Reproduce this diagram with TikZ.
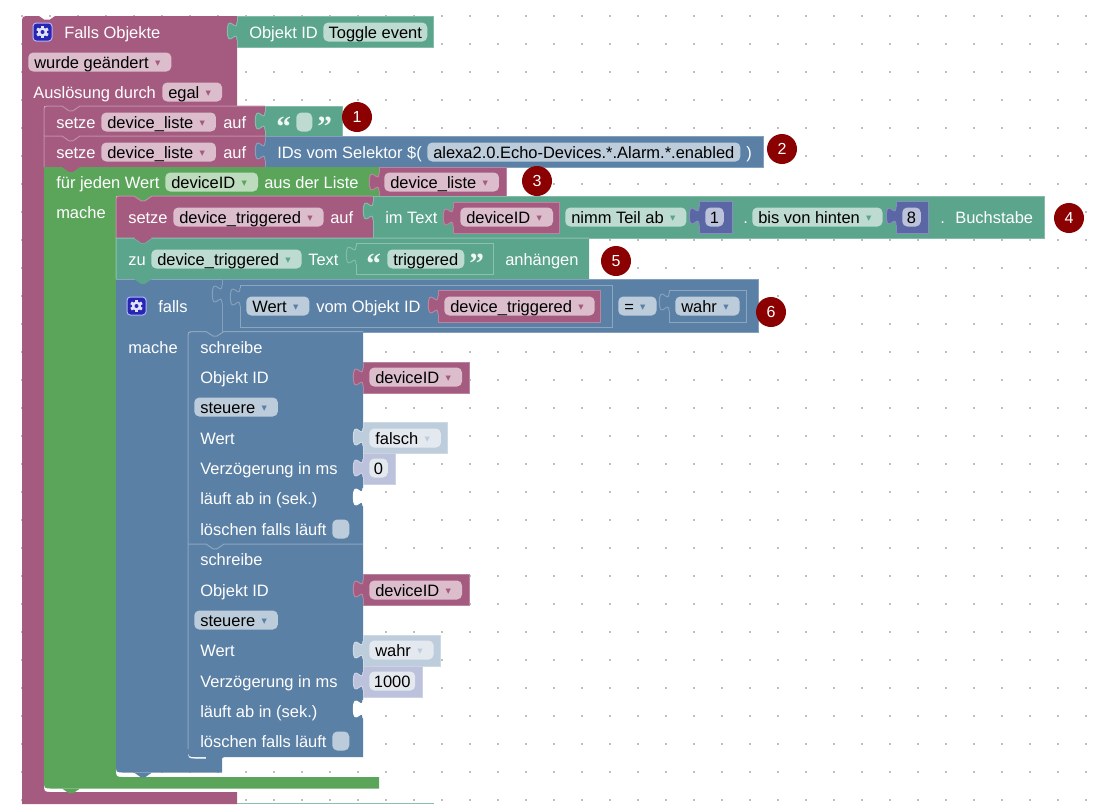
\documentclass[tikz,border=0pt]{standalone}
\usepackage{fontspec}
\setmainfont{Liberation Sans}
\newfontfamily\symfont{DejaVu Sans}
\newfontfamily\quotefont{Liberation Serif}
\definecolor{blockrose}{HTML}{A55B80}
\definecolor{blockteal}{HTML}{5BA58C}
\definecolor{blockgreen}{HTML}{5BA55B}
\definecolor{blockblue}{HTML}{5B80A5}
\definecolor{blockmath}{HTML}{5B67A5}
\definecolor{shadebool}{HTML}{BDCDDC}
\definecolor{shademath}{HTML}{BDC2DC}
\definecolor{rosefield}{HTML}{DBBDCC}
\definecolor{tealfield}{HTML}{BDDBD1}
\definecolor{greenfield}{HTML}{BDDBBD}
\definecolor{bluefield}{HTML}{BDCCDB}
\definecolor{mathfield}{HTML}{BDC2DB}
\definecolor{shadefield}{HTML}{E4E9F0}
\definecolor{badgered}{HTML}{8B0000}
\definecolor{griddot}{HTML}{BEBEBE}
\newcommand{\tabat}[3]{\begin{scope}[shift={(#1,#2)}]
		\fill[#3] (0,0) .. controls (0,12) and (-9.6,-9.6) .. (-9.6,9) .. controls (-9.6,27.6) and (0,6) .. (0,18) -- (1,18) -- (1,0) -- cycle;
		\draw[#3!75!white, line width=.75pt] (0,0) .. controls (0,12) and (-9.6,-9.6) .. (-9.6,9) .. controls (-9.6,27.6) and (0,6) .. (0,18);
	\end{scope}}
\newcommand{\valblock}[5]{\draw[fill=#5, draw=#5!75!white, line width=.75pt] (#1,#2) rectangle (#3,#4);
	\tabat{#1}{#2+6}{#5}}
\newcommand{\socket}[5]{\draw[draw=#5!70!white, line width=.75pt] (#1,#2) rectangle (#3,#4);
	\tabat{#1}{#2+3}{#5}}
\newcommand{\stmtpath}[4]{(#1,#3) -- (#1,{#2+#4}) .. controls (#1,#2) .. ({#1+#4},#2) -- ({#1+18},#2) -- ({#1+25},{#2+4.8}) -- ({#1+29},{#2+4.8}) -- ({#1+36},#2)}
\newcommand{\stmtblock}[6]{\fill[#6] \stmtpath{#1}{#2}{#4}{#5} -- (#3,#2) -- (#3,#4) -- cycle;
	\draw[#6!70!white, line width=.75pt] \stmtpath{#1}{#2}{#4}{#5} -- (#3,#2);}
\newcommand{\tailat}[3]{\fill[#3] (#1,#2) -- ({#1+2},#2) -- ({#1+18},#2) -- ({#1+11},{#2+4.8}) -- ({#1+7},{#2+4.8}) -- cycle;}
\newcommand{\gearicon}[2]{\begin{scope}[shift={(#1,#2)}]
		\draw[fill=blue!65!black!85!white, draw=blue!30!white, line width=.75pt, rounded corners=2.5pt] (-9.5,-9) rectangle (9.5,9);
		\foreach \a in {0,60,120}
			\fill[blue!12!white, rotate=\a] (-1.5,-6.3) rectangle (1.5,6.3);
		\fill[blue!12!white] (0,0) circle (4.6);
		\fill[blue!65!black!85!white] (0,0) circle (2);
	\end{scope}}
\newcommand{\caret}[1]{\hspace{1pt}\makebox[11.5pt][c]{\raisebox{.8pt}{\textcolor{#1}{\symfont\fontsize{8}{8}\selectfont ▾}}}}
\begin{document}
\begin{tikzpicture}[x=.75pt, y=-.75pt,
		lbl/.style={shape=rectangle, anchor=west, inner sep=0, text height=10.5pt, text depth=1.5pt, text=white, font=\fontsize{12.35}{14}\selectfont},
		fld/.style={lbl, text=black, inner xsep=4.5pt, inner ysep=1.125pt, rounded corners=3.75pt},
		fldrose/.style={fld, fill=rosefield},
		fldteal/.style={fld, fill=tealfield},
		fldblue/.style={fld, fill=bluefield},
		fldmath/.style={fld, fill=mathfield},
		fldshade/.style={fld, fill=shadefield},
		ddrose/.style={fldrose, execute at end node={\caret{blockrose}}},
		ddteal/.style={fldteal, execute at end node={\caret{blockteal}}},
		ddgreen/.style={fld, fill=greenfield, execute at end node={\caret{blockgreen}}},
		ddblue/.style={fldblue, execute at end node={\caret{blockblue}}},
		ddshade/.style={fldshade, execute at end node={\caret{shadebool}}},
		quotemark/.style={shape=rectangle, anchor=north west, inner sep=0, text=white!90!blockteal, font=\quotefont\bfseries\fontsize{22}{22}\selectfont},
		badge/.style={shape=circle, fill=badgered, minimum size=22.5pt, inner sep=0, text=white, font=\fontsize{12}{14}\selectfont}]
	\useasboundingbox (0,0) rectangle (1100,804);
	\clip (0,0) rectangle (1100,804);
	\foreach \i in {0,...,38}
		\foreach \j in {0,...,28}
			\fill[griddot] ({22+28*\i-.7},{16+28*\j-.7}) rectangle ({22+28*\i+.7},{16+28*\j+.7});

	% event block around everything
	\fill[blockrose] (22,804) -- (22,24) .. controls (22,16) .. (30,16) -- (39,16) -- (44,19.5) -- (50,19.5) -- (55,16) -- (237,16) -- (237,106) -- (44,106) -- (44,784) .. controls (44,792) .. (52,792) -- (237,792) -- (237,804) -- cycle;
	\draw[blockteal!70!white, line width=.75pt] (237,803.5) -- (434,803.5);
	\valblock{237}{16}{433}{47}{blockteal}
	\tailat{62}{106}{blockrose}
	\stmtblock{44}{106}{265}{136}{7}{blockrose}
	\valblock{265}{106}{342}{136}{blockteal}
	\tailat{62}{136}{blockrose}
	\stmtblock{44}{136}{265}{167}{0}{blockrose}
	\valblock{265}{136}{763}{167}{blockblue}

	% loop block
	\fill[blockgreen] (44,167) -- (379,167) -- (379,196) -- (116,196) -- (116,769) .. controls (116,777) .. (124,777) -- (379,777) -- (379,788.5) -- (52,788.5) .. controls (44,788.5) .. (44,780.5) -- cycle;
	\valblock{379}{167}{506}{196}{blockrose}
	\tailat{134}{196}{blockgreen}
	\stmtblock{116}{196}{373}{238}{7}{blockrose}
	\valblock{373}{196}{1044}{238}{blockteal}
	\valblock{453}{202}{559}{233}{blockrose}
	\valblock{699}{201}{732}{233}{blockmath}
	\valblock{896}{201}{928}{233}{blockmath}
	\stmtblock{116}{238}{589}{279}{0}{blockteal}
	\socket{356}{243}{493}{274}{blockteal}

	% if block
	\fill[blockblue] (116,279) -- (222,279) -- (222,332) -- (188,332) -- (188,750) .. controls (188,758.5) .. (196,758.5) -- (206,758.5) -- (206,757) -- (222,757) -- (222,772.5) -- (124,772.5) .. controls (116,772.5) .. (116,764.5) -- cycle;
	\draw[blockblue!70!white, line width=.75pt] (116,279) -- (222,279);
	\valblock{222}{279}{758}{332}{blockblue}
	\socket{240}{285}{612}{327}{blockblue}
	\valblock{438}{290}{600}{322}{blockrose}
	\socket{669}{290}{746}{322}{blockblue}

	% two write blocks
	\fill[blockblue] (188,749) -- (188,339) .. controls (188,332) .. (195,332) -- (363,332) -- (363,757) -- (196,757) .. controls (188,757) .. (188,749) -- cycle;
	\draw[blockblue!70!white, line width=.75pt] (188,749) -- (188,339) .. controls (188,331.5) .. (195,331.5) -- (206,331.5) -- (213,336) -- (217,336) -- (224,331.5) -- (363,331.5);
	\draw[blockblue!70!white, line width=.75pt] (188,544) -- (206,544) -- (213,548.8) -- (217,548.8) -- (224,544) -- (363,544);
	\valblock{363}{362}{469}{393}{blockrose}
	\valblock{363}{422}{447}{453}{shadebool}
	\valblock{363}{453}{395}{484}{shademath}
	\tabat{363}{488}{white}
	\valblock{363}{574}{469}{605}{blockrose}
	\valblock{363}{635}{440}{666}{shadebool}
	\valblock{363}{666}{422}{697}{shademath}
	\tabat{363}{700}{white}

	\tailat{62}{167}{blockrose}
	\tailat{62}{788.5}{blockgreen}
	\tailat{134}{238}{blockrose}
	\tailat{134}{279}{blockteal}
	\tailat{134}{772.5}{blockblue}
	\tailat{206}{757}{blockblue}

	\gearicon{42.5}{32}
	\gearicon{136.5}{306}

	\node (falls) at (64,32) [lbl] {Falls Objekte};
	\node (objid) at (249,32) [lbl] {Objekt ID};
	\node (toggle) at (323,32) [fldteal, inner xsep=4pt] {Toggle event};
	\node (changed) at (28,62) [ddrose] {wurde geändert};
	\node (trigger) at (33,92) [lbl] {Auslösung durch};
	\node (egal) at (162,92) [ddrose] {egal};

	\node (set1) at (56,122) [lbl] {setze};
	\node (var1) at (101,122) [ddrose] {device\_liste};
	\node (to1) at (223,122) [lbl] {auf};
	\node (open1) at (276,117) [quotemark] {“};
	\node (empty) at (296,122) [fldteal, minimum width=12pt, inner xsep=0] {};
	\node (close1) at (317,117) [quotemark] {”};

	\node (set2) at (56,152) [lbl] {setze};
	\node (var2) at (101,152) [ddrose] {device\_liste};
	\node (to2) at (223,152) [lbl] {auf};
	\node (selector) at (277,152) [lbl] {IDs vom Selektor \$(};
	\node (pattern) at (427,152) [fldblue] {alexa2.0.Echo-Devices.*.Alarm.*.enabled};
	\node (selend) at (746,152) [lbl] {)};

	\node (each) at (56,182) [lbl] {für jeden Wert};
	\node (loopvar) at (165,182) [ddgreen] {deviceID};
	\node (fromlist) at (264,182) [lbl] {aus der Liste};
	\node (listvar) at (384,182) [ddrose] {device\_liste};
	\node (do1) at (56,212) [lbl] {mache};

	\node (set3) at (128,217) [lbl] {setze};
	\node (var3) at (173,217) [ddrose] {device\_triggered};
	\node (to3) at (330,217) [lbl] {auf};
	\node (intext) at (385,217) [lbl] {im Text};
	\node (idvar1) at (460,217) [ddrose] {deviceID};
	\node (takepart) at (565,217) [ddteal] {nimm Teil ab};
	\node (numa) at (705,217) [fldmath, inner xsep=3.5pt] {1};
	\node (dota) at (743,217) [lbl] {.};
	\node (fromend) at (752,217) [ddteal] {bis von hinten};
	\node (numb) at (902,217) [fldmath, inner xsep=3.5pt] {8};
	\node (dotb) at (940,217) [lbl] {.};
	\node (letter) at (955,217) [lbl] {Buchstabe};

	\node (zu) at (128,259) [lbl] {zu};
	\node (var4) at (151,259) [ddteal] {device\_triggered};
	\node (textlbl) at (308,259) [lbl] {Text};
	\node (open2) at (366,254) [quotemark] {“};
	\node (suffix) at (387,259) [fldteal] {triggered};
	\node (close2) at (469,254) [quotemark] {”};
	\node (append) at (505,259) [lbl] {anhängen};

	\node (iflbl) at (158,306) [lbl] {falls};
	\node (valueof) at (246,306) [ddblue] {Wert};
	\node (fromobj) at (316,306) [lbl] {vom Objekt ID};
	\node (var5) at (444,306) [ddrose] {device\_triggered};
	\node (equals) at (618,306) [ddblue] {=};
	\node (truecmp) at (675,306) [ddblue] {wahr};
	\node (do2) at (128,347) [lbl] {mache};

	\node (wa) at (200,347) [lbl] {schreibe};
	\node (wb) at (200,377) [lbl] {Objekt ID};
	\node (wc) at (369,377) [ddrose] {deviceID};
	\node (wd) at (194,407) [ddblue] {steuere};
	\node (we) at (200,438) [lbl] {Wert};
	\node (wf) at (369,438) [ddshade] {falsch};
	\node (wg) at (200,468) [lbl] {Verzögerung in ms};
	\node (wh) at (369,468) [fldshade, inner xsep=3.5pt] {0};
	\node (wi) at (200,498) [lbl] {läuft ab in (sek.)};
	\node (wj) at (200,529) [lbl] {löschen falls läuft};
	\node (wk) at (332,529) [fldblue, minimum width=12.75pt, inner xsep=0] {};

	\node (xa) at (200,559) [lbl] {schreibe};
	\node (xb) at (200,590) [lbl] {Objekt ID};
	\node (xc) at (369,590) [ddrose] {deviceID};
	\node (xd) at (194,620) [ddblue] {steuere};
	\node (xe) at (200,650) [lbl] {Wert};
	\node (xf) at (369,650) [ddshade] {wahr};
	\node (xg) at (200,681) [lbl] {Verzögerung in ms};
	\node (xh) at (369,681) [fldshade, inner xsep=3.5pt] {1000};
	\node (xi) at (200,711) [lbl] {läuft ab in (sek.)};
	\node (xj) at (200,741) [lbl] {löschen falls läuft};
	\node (xk) at (332,741) [fldblue, minimum width=12.75pt, inner xsep=0] {};

	\node (badge1) at (357,117) [badge] {1};
	\node (badge2) at (782,149) [badge] {2};
	\node (badge3) at (537,181) [badge] {3};
	\node (badge4) at (1069,218) [badge] {4};
	\node (badge5) at (616,261) [badge] {5};
	\node (badge6) at (771,312) [badge] {6};
\end{tikzpicture}
\end{document}
